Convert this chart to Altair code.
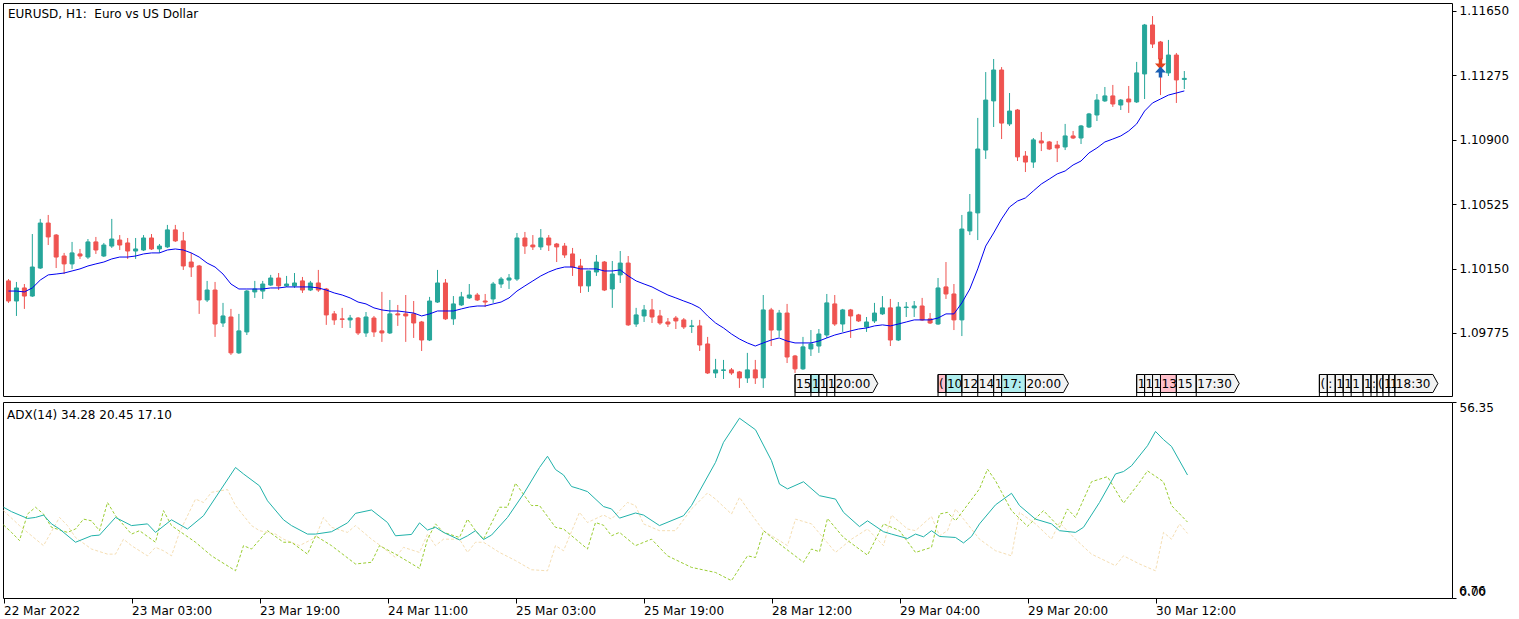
import altair as alt
import pandas as pd

# ---------------- data ----------------
opens = [
    1.10078, 1.09961, 1.10037, 1.09990, 1.10153, 1.10415, 1.10345, 1.10223, 1.10177, 1.10235,
    1.10217, 1.10305, 1.10223, 1.10281, 1.10316, 1.10299, 1.10252, 1.10258, 1.10328, 1.10264,
    1.10276, 1.10375, 1.10311, 1.10188, 1.10165, 1.09967, 1.10025, 1.09833, 1.09868, 1.09659,
    1.09781, 1.10014, 1.10019, 1.10054, 1.10095, 1.10049, 1.10049, 1.10078, 1.10025, 1.10066,
    1.10031, 1.09886, 1.09857, 1.09851, 1.09862, 1.09775, 1.09862, 1.09787, 1.09775, 1.09886,
    1.09886, 1.09886, 1.09839, 1.09734, 1.09955, 1.10066, 1.09857, 1.09938, 1.09979, 1.09996,
    1.09961, 1.09973, 1.10060, 1.10083, 1.10089, 1.10328, 1.10287, 1.10276, 1.10328, 1.10293,
    1.10281, 1.10235, 1.10165, 1.10049, 1.10130, 1.10188, 1.10031, 1.10113, 1.10182, 1.09827,
    1.09874, 1.09909, 1.09874, 1.09839, 1.09862, 1.09851, 1.09813, 1.09816, 1.09711, 1.09542,
    1.09557, 1.09560, 1.09548, 1.09513, 1.09560, 1.09513, 1.09909, 1.09792, 1.09891, 1.09641,
    1.09566, 1.09682, 1.09699, 1.09763, 1.09944, 1.09827, 1.09909, 1.09880, 1.09810, 1.09845,
    1.09886, 1.09921, 1.09734, 1.09923, 1.09921, 1.09932, 1.09857, 1.09827, 1.10043, 1.10002,
    1.09851, 1.10369, 1.10474, 1.10840, 1.11126, 1.11306, 1.10992, 1.11073, 1.10805, 1.10770,
    1.10893, 1.10887, 1.10869, 1.10858, 1.10922, 1.10910, 1.10974, 1.11044, 1.11126, 1.11155,
    1.11102, 1.11137, 1.11120, 1.11283, 1.11568, 1.11469, 1.11289, 1.11393, 1.11251,
]
highs = [
    1.10089, 1.10072, 1.10060, 1.10351, 1.10439, 1.10462, 1.10351, 1.10241, 1.10305, 1.10264,
    1.10322, 1.10334, 1.10299, 1.10439, 1.10345, 1.10328, 1.10328, 1.10345, 1.10351, 1.10293,
    1.10404, 1.10404, 1.10363, 1.10241, 1.10171, 1.10078, 1.10072, 1.09950, 1.09915, 1.09886,
    1.10025, 1.10078, 1.10078, 1.10113, 1.10124, 1.10107, 1.10124, 1.10101, 1.10078, 1.10142,
    1.10037, 1.09903, 1.09921, 1.09880, 1.09868, 1.09897, 1.09874, 1.10014, 1.09967, 1.09938,
    1.09996, 1.09961, 1.09845, 1.09985, 1.10142, 1.10089, 1.09990, 1.10014, 1.10060, 1.10008,
    1.10002, 1.10072, 1.10101, 1.10118, 1.10357, 1.10363, 1.10345, 1.10380, 1.10345, 1.10299,
    1.10299, 1.10270, 1.10206, 1.10136, 1.10229, 1.10194, 1.10194, 1.10252, 1.10223, 1.09921,
    1.09938, 1.09973, 1.09909, 1.09862, 1.09874, 1.09862, 1.09851, 1.09851, 1.09752, 1.09624,
    1.09618, 1.09571, 1.09554, 1.09659, 1.09618, 1.09996, 1.09921, 1.09909, 1.09944, 1.09647,
    1.09752, 1.09792, 1.09798, 1.10002, 1.09996, 1.09915, 1.09915, 1.09886, 1.09868, 1.09950,
    1.09990, 1.09973, 1.09955, 1.09955, 1.09961, 1.09979, 1.09891, 1.10095, 1.10188, 1.10060,
    1.10462, 1.10584, 1.11027, 1.11294, 1.11370, 1.11323, 1.11172, 1.11079, 1.10834, 1.10910,
    1.10945, 1.10893, 1.10893, 1.10992, 1.10951, 1.10986, 1.11056, 1.11166, 1.11207, 1.11219,
    1.11137, 1.11213, 1.11353, 1.11574, 1.11620, 1.11475, 1.11481, 1.11405, 1.11300,
]
lows = [
    1.09950, 1.09874, 1.09915, 1.09985, 1.10148, 1.10287, 1.10153, 1.10118, 1.10148, 1.10206,
    1.10206, 1.10235, 1.10217, 1.10270, 1.10258, 1.10206, 1.10206, 1.10252, 1.10258, 1.10241,
    1.10270, 1.10305, 1.10142, 1.10101, 1.09886, 1.09955, 1.09752, 1.09810, 1.09647, 1.09653,
    1.09763, 1.09979, 1.09973, 1.10049, 1.10025, 1.10043, 1.10037, 1.10008, 1.10019, 1.10014,
    1.09822, 1.09822, 1.09804, 1.09804, 1.09763, 1.09752, 1.09752, 1.09723, 1.09769, 1.09816,
    1.09723, 1.09746, 1.09670, 1.09728, 1.09950, 1.09851, 1.09822, 1.09932, 1.09973, 1.09961,
    1.09926, 1.09950, 1.10037, 1.10031, 1.10078, 1.10235, 1.10258, 1.10258, 1.10252, 1.10188,
    1.10212, 1.10107, 1.10008, 1.10014, 1.10107, 1.10019, 1.09921, 1.10066, 1.09816, 1.09810,
    1.09839, 1.09833, 1.09822, 1.09810, 1.09798, 1.09798, 1.09775, 1.09670, 1.09536, 1.09513,
    1.09507, 1.09531, 1.09455, 1.09484, 1.09478, 1.09455, 1.09699, 1.09752, 1.09600, 1.09542,
    1.09560, 1.09641, 1.09659, 1.09746, 1.09816, 1.09781, 1.09746, 1.09839, 1.09781, 1.09833,
    1.09880, 1.09699, 1.09728, 1.09868, 1.09868, 1.09845, 1.09827, 1.09822, 1.09973, 1.09792,
    1.09757, 1.10345, 1.10316, 1.10788, 1.10974, 1.10904, 1.10980, 1.10776, 1.10712, 1.10736,
    1.10834, 1.10840, 1.10770, 1.10840, 1.10904, 1.10875, 1.10968, 1.11009, 1.11120, 1.11091,
    1.11073, 1.11056, 1.11114, 1.11137, 1.11434, 1.11160, 1.11271, 1.11114, 1.11195,
]
closes = [
    1.09961, 1.10037, 1.09990, 1.10159, 1.10415, 1.10334, 1.10217, 1.10177, 1.10241, 1.10223,
    1.10305, 1.10258, 1.10287, 1.10322, 1.10287, 1.10252, 1.10264, 1.10328, 1.10264, 1.10281,
    1.10375, 1.10311, 1.10165, 1.10159, 1.09967, 1.10025, 1.09827, 1.09874, 1.09659, 1.09787,
    1.10019, 1.10031, 1.10060, 1.10095, 1.10049, 1.10060, 1.10066, 1.10025, 1.10066, 1.10025,
    1.09880, 1.09851, 1.09854, 1.09862, 1.09775, 1.09868, 1.09781, 1.09775, 1.09886, 1.09880,
    1.09874, 1.09833, 1.09734, 1.09961, 1.10066, 1.09857, 1.09944, 1.09985, 1.09996, 1.09967,
    1.09955, 1.10060, 1.10089, 1.10095, 1.10328, 1.10281, 1.10276, 1.10328, 1.10287, 1.10276,
    1.10229, 1.10159, 1.10049, 1.10136, 1.10188, 1.10025, 1.10118, 1.10182, 1.09822, 1.09880,
    1.09909, 1.09868, 1.09833, 1.09827, 1.09845, 1.09810, 1.09816, 1.09705, 1.09542, 1.09560,
    1.09560, 1.09542, 1.09513, 1.09560, 1.09513, 1.09909, 1.09792, 1.09891, 1.09635, 1.09566,
    1.09694, 1.09711, 1.09769, 1.09950, 1.09827, 1.09909, 1.09874, 1.09845, 1.09839, 1.09891,
    1.09921, 1.09734, 1.09926, 1.09926, 1.09932, 1.09851, 1.09833, 1.10037, 1.10002, 1.09851,
    1.10380, 1.10479, 1.10846, 1.11131, 1.11306, 1.10997, 1.11067, 1.10800, 1.10770, 1.10899,
    1.10881, 1.10846, 1.10852, 1.10922, 1.10910, 1.10980, 1.11050, 1.11131, 1.11155, 1.11108,
    1.11131, 1.11120, 1.11289, 1.11568, 1.11457, 1.11370, 1.11393, 1.11248, 1.11257,
]
moving_avg = [
    1.10019, 1.10019, 1.10014, 1.10037, 1.10083, 1.10113, 1.10118, 1.10124, 1.10136, 1.10148,
    1.10165, 1.10177, 1.10188, 1.10206, 1.10217, 1.10217, 1.10223, 1.10235, 1.10241, 1.10241,
    1.10258, 1.10264, 1.10258, 1.10241, 1.10217, 1.10182, 1.10159, 1.10118, 1.10060, 1.10031,
    1.10031,
    1.10031, 1.10031, 1.10037, 1.10037, 1.10043, 1.10043, 1.10043, 1.10043, 1.10037, 1.10025,
    1.10008, 1.09996, 1.09979, 1.09955, 1.09944, 1.09921, 1.09909, 1.09903, 1.09903, 1.09897,
    1.09891, 1.09874, 1.09886, 1.09903, 1.09903, 1.09903, 1.09915, 1.09926, 1.09932, 1.09932,
    1.09944, 1.09955, 1.09979, 1.10019, 1.10049, 1.10078, 1.10107, 1.10130, 1.10148, 1.10159,
    1.10159, 1.10148, 1.10148, 1.10148, 1.10136, 1.10136, 1.10142, 1.10107, 1.10078, 1.10060,
    1.10043, 1.10019, 1.09996, 1.09979, 1.09961, 1.09944, 1.09921, 1.09874, 1.09833, 1.09804,
    1.09769, 1.09740, 1.09717, 1.09699, 1.09717, 1.09734, 1.09746, 1.09728, 1.09717, 1.09717,
    1.09717, 1.09728, 1.09746, 1.09763, 1.09775, 1.09787, 1.09798, 1.09804, 1.09816, 1.09822,
    1.09816, 1.09827, 1.09839, 1.09851, 1.09851, 1.09851, 1.09862, 1.09886, 1.09886,
    1.09950, 1.10031, 1.10148, 1.10281, 1.10357, 1.10439, 1.10508, 1.10543, 1.10561, 1.10602,
    1.10642, 1.10671, 1.10701, 1.10718, 1.10753, 1.10776, 1.10823, 1.10852, 1.10887, 1.10904,
    1.10922, 1.10951, 1.10992, 1.11067, 1.11114, 1.11137, 1.11160, 1.11172, 1.11184,
]

adx_bar = [0, 1, 3, 4, 5, 6, 7, 9, 11, 12, 14, 16, 18, 19, 21, 23, 25, 29, 30, 32,
           33, 35, 36, 38, 39, 41, 43, 44, 46, 48, 49, 51, 52, 53, 54, 55, 57, 58, 59, 60,
           61, 63, 65, 67, 68, 69, 70, 71, 72, 73, 75, 76, 77, 79, 80, 82, 85, 86, 89, 90,
           92, 94, 96, 97, 98, 100, 102, 104, 105, 107, 108, 110, 111, 113, 114, 115, 116, 117, 119, 120,
           121, 122, 124, 126, 127, 129, 131, 132, 134, 135, 137, 139, 140, 141, 143, 144, 145, 146, 148]
adx_val = [24.8, 23.5, 21.5, 21.8, 22.5, 19.9, 18.4, 14.5, 16.4, 16.6, 21.8, 19.4, 19.9, 17.4, 21.1, 18.4, 22.3, 36.5, 34.6, 31.1,
           26.7, 21.1, 19.4, 16.9, 16.9, 17.6, 20.2, 23.0, 24.0, 20.3, 16.4, 16.8, 20.2, 18.1, 18.9, 17.4, 15.2, 16.4, 17.9, 15.3,
           16.6, 21.8, 28.7, 36.5, 39.8, 35.9, 34.3, 30.9, 30.2, 29.4, 25.0, 24.3, 21.6, 23.1, 22.5, 19.4, 22.3, 25.3, 38.0, 43.9,
           51.0, 47.6, 38.5, 31.6, 30.2, 32.3, 28.2, 27.2, 23.3, 19.1, 20.8, 17.6, 16.9, 15.6, 16.9, 16.1, 17.9, 16.2, 15.9, 14.3,
           16.2, 19.9, 25.5, 28.9, 25.3, 21.3, 19.9, 17.9, 17.4, 18.9, 26.2, 34.6, 35.3, 37.0, 42.9, 47.1, 44.7, 42.7, 34.28]

pdi_bar = [0, 1, 2, 3, 4, 5, 6, 8, 9, 10, 11, 12, 13, 14, 16, 17, 19, 20, 21, 24,
           26, 29, 30, 31, 33, 35, 36, 38, 39, 41, 44, 46, 47, 49, 52, 53, 54, 55, 57, 58,
           59, 60, 62, 63, 64, 66, 67, 69, 70, 73, 74, 75, 76, 77, 79, 81, 83, 86, 89, 91,
           93, 94, 95, 97, 100, 101, 102, 103, 105, 108, 110, 112, 114, 116, 117, 118, 119, 122, 123, 124,
           126, 128, 130, 132, 133, 134, 136, 138, 140, 142, 143, 145, 146, 148]
pdi_val = [19.6, 17.4, 15.0, 22.8, 24.8, 22.8, 18.9, 17.4, 18.4, 21.3, 20.8, 17.9, 26.2, 22.3, 16.9, 17.9, 14.5, 23.8, 19.4, 14.5,
           10.5, 6.1, 13.5, 12.5, 17.9, 14.5, 14.5, 11.0, 16.4, 13.5, 8.1, 8.6, 13.5, 11.0, 6.8, 15.4, 19.9, 17.4, 15.9, 21.3,
           17.9, 15.4, 24.8, 24.8, 31.9, 25.3, 25.3, 18.9, 18.4, 12.5, 20.3, 19.5, 16.4, 17.4, 13.5, 15.4, 10.5, 7.1, 5.6, 3.2,
           10.5, 10.0, 17.9, 14.0, 8.6, 12.5, 11.7, 21.5, 15.9, 10.7, 19.9, 17.9, 11.5, 13.0, 22.8, 23.3, 20.8, 30.2, 36.0, 32.6,
           23.8, 19.2, 23.8, 18.9, 24.3, 21.8, 32.3, 33.8, 26.0, 32.1, 35.5, 32.3, 25.3, 20.45]

mdi_bar = [0, 2, 3, 5, 7, 8, 9, 11, 13, 14, 15, 16, 18, 19, 20, 21, 22, 24, 25, 26,
           28, 29, 31, 32, 34, 35, 37, 39, 40, 41, 43, 44, 46, 47, 49, 50, 52, 53, 54, 55,
           57, 58, 59, 60, 62, 64, 66, 68, 69, 70, 72, 73, 75, 76, 78, 79, 80, 82, 84, 86,
           88, 89, 91, 92, 93, 95, 98, 99, 101, 104, 106, 108, 110, 111, 113, 114, 116, 117, 118, 119,
           122, 124, 126, 127, 129, 131, 132, 134, 136, 139, 140, 142, 144, 145, 146, 147, 148]
mdi_val = [23.8, 19.4, 17.4, 13.5, 21.8, 19.4, 15.9, 12.5, 11.0, 11.0, 15.4, 13.5, 10.5, 13.0, 12.0, 10.5, 17.4, 27.2, 26.2, 29.2,
           30.0, 25.3, 19.4, 17.9, 16.9, 15.4, 13.5, 15.9, 21.8, 18.9, 17.4, 19.4, 15.4, 13.7, 10.0, 13.0, 11.5, 16.9, 13.5, 15.4,
           15.4, 11.5, 14.5, 14.5, 11.5, 9.1, 6.4, 6.1, 13.5, 12.0, 23.3, 20.3, 22.5, 21.3, 26.2, 25.3, 19.9, 17.9, 17.9, 24.3,
           29.0, 27.2, 22.8, 27.7, 24.3, 17.9, 13.5, 21.3, 19.9, 11.5, 15.4, 18.4, 13.5, 22.5, 18.4, 17.9, 22.1, 16.4, 17.9, 24.3,
           15.4, 12.0, 10.5, 23.3, 19.9, 15.4, 20.3, 15.4, 11.0, 7.6, 10.5, 8.1, 6.1, 17.4, 15.4, 19.9, 17.10]

time_label_bars = [0, 16, 32, 48, 64, 80, 96, 112, 128, 144]
time_labels = ["22 Mar 2022", "23 Mar 03:00", "23 Mar 19:00", "24 Mar 11:00", "25 Mar 03:00",
               "25 Mar 19:00", "28 Mar 12:00", "29 Mar 04:00", "29 Mar 20:00", "30 Mar 12:00"]
price_ticks = [1.09775, 1.10150, 1.10525, 1.10900, 1.11275, 1.11650]
adx_scale_labels = ["56.35", "0.00", "6.76"]

trade_bar = [145, 145]
trade_price = [1.11341, 1.11295]
trade_side = ["sell", "buy"]

event_bar = [99, 101, 102, 103, 104,
             117, 118, 120, 122, 124, 125, 128,
             142, 143, 144, 145, 147, 149.5,
             165, 166, 167, 168, 169, 170.5, 171.5, 172.25, 173, 173.75, 174.5]
event_text = ["15", "1", "1", "1", "20:00",
              "(", "10", "12", "14", "1", "17:", "20:00",
              "1", "1", "1", "13", "15", "17:30",
              "(", ":", "1", "1", "1", "1", ":", "(", "1", "1", "18:30"]
event_group = [1] * 5 + [2] * 7 + [3] * 6 + [4] * 11
event_kind = ["plain", "cyan", "plain", "plain", "plain",
              "pink", "cyan", "plain", "plain", "plain", "cyan", "plain",
              "plain", "plain", "plain", "pink", "plain", "plain"] + ["plain"] * 11

chart_title = "EURUSD, H1:\u00a0 Euro vs US Dollar"
adx_title = "ADX(14) 34.28 20.45 17.10"

# ---------------- tables ----------------
n = len(opens)
candles = pd.DataFrame({"i": list(range(n)), "open": opens, "high": highs,
                        "low": lows, "close": closes})
candles["dir"] = ["up" if c >= o else "down" for o, c in zip(opens, closes)]
ma_df = pd.DataFrame({"i": list(range(n)), "ma": moving_avg})
trades = pd.DataFrame({"i": trade_bar, "price": trade_price, "side": trade_side})
adx_df = pd.DataFrame({"i": adx_bar, "v": adx_val})
pdi_df = pd.DataFrame({"i": pdi_bar, "v": pdi_val})
mdi_df = pd.DataFrame({"i": mdi_bar, "v": mdi_val})

ev = pd.DataFrame({"bar": event_bar, "text": event_text,
                   "group": event_group, "kind": event_kind})
same = ev["group"].shift(-1) == ev["group"]
ev["x2"] = ev["bar"].shift(-1).where(same)
boxes = ev[same].copy()
heads = ev[~same].copy()

# ---------------- styling ----------------
FONT = "DejaVu Sans"
W, H_MAIN, H_ADX = 1449, 393, 196
XS = alt.Scale(domain=[-0.0625, 181.0625], nice=False, zero=False)
YS = alt.Scale(domain=[1.09408, 1.11696], nice=False, zero=False)
YA = alt.Scale(domain=[-1.91, 55.77], nice=False, zero=False)
dir_scale = alt.Scale(domain=["up", "down"], range=["#26a69a", "#ef5350"])
kind_scale = alt.Scale(domain=["plain", "pink", "cyan"], range=["#f2f2f2", "#ffc0cb", "#b0eeee"])

axis_common = dict(domain=False, grid=False, title=None, ticks=True, tickColor="black",
                   labelColor="black", labelFontSize=12, labelFont=FONT)
y_price_axis = alt.Axis(orient="right", values=price_ticks, format=".5f", tickSize=4,
                        labelPadding=3, labelFlush=False, labelOverlap=False, **axis_common)
x_main = alt.X("i:Q", scale=XS, axis=None)

DOWN_ARROW = "M-0.32,-1L0.32,-1L0.32,-0.1L1,-0.1L0,1L-1,-0.1L-0.32,-0.1Z"
UP_ARROW = "M-0.32,1L0.32,1L0.32,0.1L1,0.1L0,-1L-1,0.1L-0.32,0.1Z"
PENT = "M-1,-0.42L0.77,-0.42L1,0L0.77,0.42L-1,0.42Z"

# ---------------- main price panel ----------------
wicks = alt.Chart(candles).mark_rule(strokeWidth=1, clip=True).encode(
    x=x_main, y=alt.Y("low:Q", scale=YS, axis=y_price_axis), y2="high:Q",
    color=alt.Color("dir:N", scale=dir_scale, legend=None))
bodies = alt.Chart(candles).mark_bar(size=4, strokeWidth=1, clip=True).encode(
    x=x_main, y=alt.Y("open:Q", scale=YS, axis=y_price_axis), y2="close:Q",
    color=alt.Color("dir:N", scale=dir_scale, legend=None),
    stroke=alt.Stroke("dir:N", scale=dir_scale, legend=None))
ma_line = alt.Chart(ma_df).mark_line(color="#0000f0", strokeWidth=1, clip=True).encode(
    x=x_main, y=alt.Y("ma:Q", scale=YS, axis=y_price_axis))
sell = alt.Chart(trades[trades["side"] == "sell"]).mark_point(
    shape=DOWN_ARROW, size=121, filled=True, color="#e2431e", opacity=1).encode(
    x=x_main, y=alt.Y("price:Q", scale=YS, axis=y_price_axis))
buy = alt.Chart(trades[trades["side"] == "buy"]).mark_point(
    shape=UP_ARROW, size=121, filled=True, color="#1a5fb4", opacity=1).encode(
    x=x_main, y=alt.Y("price:Q", scale=YS, axis=y_price_axis))

x_ev = alt.X("bar:Q", scale=XS, axis=None)
ev_rect = alt.Chart(boxes).mark_rect(stroke="black", strokeWidth=1).encode(
    x=x_ev, x2="x2:Q", y=alt.value(371.5), y2=alt.value(389.5),
    fill=alt.Fill("kind:N", scale=kind_scale, legend=None))
ev_head = alt.Chart(heads).mark_point(
    shape=PENT, size=1849, filled=True, fill="#f2f2f2", stroke="black", strokeWidth=1,
    opacity=1, xOffset=21.5).encode(x=x_ev, y=alt.value(380.5))
ev_text = alt.Chart(ev).mark_text(align="left", baseline="middle", dx=1, fontSize=12,
                                  font=FONT, color="black").encode(
    x=x_ev, y=alt.value(381), text="text:N")
ev_stem = alt.Chart(ev).mark_rule(color="black", strokeWidth=1).encode(
    x=x_ev, y=alt.value(371.5), y2=alt.value(393))
title = alt.Chart(pd.DataFrame({"t": [chart_title]})).mark_text(
    align="left", baseline="middle", fontSize=12, font=FONT, color="black").encode(
    x=alt.value(5), y=alt.value(11), text="t:N")

main = alt.layer(wicks, bodies, ma_line, sell, buy, ev_rect, ev_head, ev_text, ev_stem,
                 title).properties(width=W, height=H_MAIN)

# ---------------- ADX panel ----------------
labels_js = "[" + ",".join("'" + t + "'" for t in time_labels) + "]"
bars_js = "[" + ",".join(str(b) for b in time_label_bars) + "]"
x_adx_axis = alt.Axis(values=time_label_bars, orient="bottom",
                      labelExpr=labels_js + "[indexof(" + bars_js + ", datum.value)]",
                      tickSize=5, labelPadding=2, labelAlign="left", labelBaseline="top",
                      labelFlush=False, labelOverlap=False, labelBound=False, **axis_common)
y_adx_axis = alt.Axis(orient="right", values=[-1.91, 55.77],
                      labelExpr="datum.value > 20 ? '" + adx_scale_labels[0] + "' : '"
                      + adx_scale_labels[1] + "'",
                      labelFlush=True, tickSize=4, labelPadding=3, **axis_common)
x_adx = alt.X("i:Q", scale=XS, axis=x_adx_axis)
y_adx = alt.Y("v:Q", scale=YA, axis=y_adx_axis)

mdi_line = alt.Chart(mdi_df).mark_line(color="#f5deb3", strokeWidth=1, strokeDash=[3, 2],
                                       clip=True).encode(x=x_adx, y=y_adx)
pdi_line = alt.Chart(pdi_df).mark_line(color="#9acd32", strokeWidth=1, strokeDash=[3, 2],
                                       clip=True).encode(x=x_adx, y=y_adx)
adx_line = alt.Chart(adx_df).mark_line(color="#20b2aa", strokeWidth=1,
                                       clip=True).encode(x=x_adx, y=y_adx)
adx_label = alt.Chart(pd.DataFrame({"t": [adx_title]})).mark_text(
    align="left", baseline="middle", fontSize=12, font=FONT, color="black").encode(
    x=alt.value(4), y=alt.value(12.5), text="t:N")
min_label = alt.Chart(pd.DataFrame({"t": [adx_scale_labels[2]]})).mark_text(
    align="left", baseline="bottom", fontSize=12, font=FONT, color="black").encode(
    x=alt.value(W + 7), y=alt.value(H_ADX), text="t:N")

adx = alt.layer(mdi_line, pdi_line, adx_line, adx_label, min_label).properties(
    width=W, height=H_ADX)

chart = alt.vconcat(main, adx, spacing=3).properties(
    padding={"left": 2, "top": 2, "right": 0, "bottom": 0}, background="white"
).configure(font=FONT).configure_view(stroke="black", strokeWidth=1, fill="white")

chart.save("out.html", embed_options={"renderer": "svg", "actions": False})
